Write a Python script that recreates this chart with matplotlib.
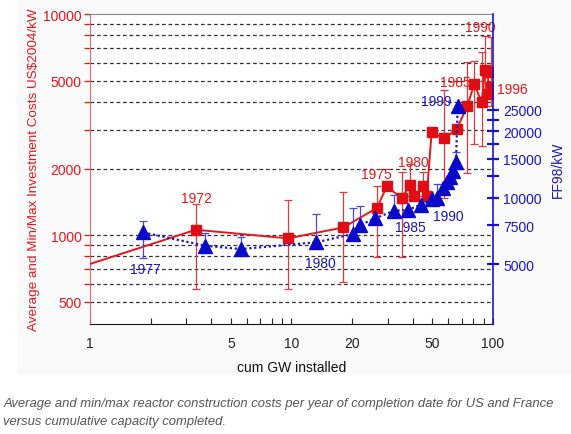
import numpy as np
import matplotlib
matplotlib.use("Agg")
import matplotlib.pyplot as plt
from matplotlib.ticker import FixedLocator, FuncFormatter, NullFormatter, LogLocator

plt.rcParams['font.family'] = ['Liberation Sans', 'DejaVu Sans']

# ---- data ----
# red: average US$2004/kW per completion year (left axis)
red_x = [3.35, 9.64, 18.1, 26.6, 29.7, 35.2, 38.7, 40.7, 45.1, 46.9, 49.6,
         57.4, 66.1, 74.5, 80.7, 87.9, 91.3, 94.5, 94.8, 97.8]
red_y = [1057, 966, 1083, 1328, 1660, 1469, 1682, 1506, 1671, 1506, 2917,
         2735, 3020, 3820, 4820, 3980, 5580, 5465, 4345, 4677]
red_lo = [570, 570, 611, 793, None, 793, 1500, None, 1500, None, None,
          1470, None, 1910, 2580, 2540, 4400, None, None, 3840]
red_hi = [1380, 1445, 1570, 1660, None, 1924, 2095, None, 1930, None, None,
          4540, None, 6070, 6150, 6710, 7980, None, None, 7850]
# the red line runs in from the left edge
red_start_x, red_start_y = 1.0, 740

# blue: FF98/kW (right axis)
blue_x = [1.84, 3.72, 5.6, 13.3, 20.1, 21.9, 26.0, 32.4, 37.7, 44.0, 49.8,
          52.7, 56.7, 58.9, 61.2, 63.6, 65.5, 66.8]
blue_y = [6960, 6060, 5850, 6280, 6840, 7510, 8060, 8720, 8790, 9300, 9850,
          9950, 11000, 11720, 12350, 13230, 14440, 26030]
blue_lo = [5330, None, None, None, None, None, None, None, None, None, None,
           None, None, None, None, None, None, None]
blue_hi = [7850, 6890, 6610, 8430, 8940, 9130, None, 10300, None, None, None,
           11520, None, None, None, None, 16020, None]

# year labels: (text, x, y on the left-axis scale)
red_labels = [("1972", 3.36, 1470), ("1975", 26.5, 1888), ("1980", 40.2, 2148),
              ("1985", 64.8, 4910), ("1990", 86.2, 8710), ("1996", 124.0, 4580)]
blue_labels = [("1977", 1.89, 702), ("1980", 13.85, 747), ("1985", 38.7, 1083),
               ("1990", 60.0, 1223), ("1999", 52.1, 4037)]

grid_levels = [500, 600, 700, 800, 900, 1000, 2000, 3000, 4000, 5000,
               6000, 7000, 8000, 9000]
left_labels = [500, 1000, 2000, 5000, 10000]
right_major = [5000, 7500, 10000, 15000, 20000, 25000]
right_minor = [12500, 17500, 22500]
x_labels = [1, 5, 10, 20, 50, 100]

ff_per_usd = 6.77   # right axis offset against left axis
ylo, yhi = 396, 10000

RED = '#e8161b'
BLUE = '#1a16c8'

fig = plt.figure(figsize=(5.71, 4.35), dpi=100)
fig.patches.append(plt.Rectangle((0.03, 0.138), 0.97, 0.862, transform=fig.transFigure,
                                 facecolor='#fafafa', edgecolor='none', zorder=-10))
ax = fig.add_axes([0.1576, 0.2529, 0.7058, 0.7126])
ax.set_facecolor('white')
ax.set_xscale('log')
ax.set_yscale('log')
ax.set_xlim(1, 100)
ax.set_ylim(ylo, yhi)

for g in grid_levels:
    ax.axhline(g, color='#333333', lw=0.9, ls=(0, (3, 2.2)), zorder=1)


def bars(xs, ys, lo, hi):
    bx, by, el, eh = [], [], [], []
    for x, y, l, h in zip(xs, ys, lo, hi):
        if l is None and h is None:
            continue
        bx.append(x); by.append(y)
        el.append(y - (l if l is not None else y))
        eh.append((h if h is not None else y) - y)
    return bx, by, [el, eh]


# red series
ax.plot([red_start_x] + red_x, [red_start_y] + red_y, color=RED, lw=1.4, zorder=3)
bx, by, be = bars(red_x, red_y, red_lo, red_hi)
ax.errorbar(bx, by, yerr=be, fmt='none', ecolor='#e2393c', elinewidth=0.9,
            capsize=3, capthick=0.9, zorder=2)
ax.plot(red_x, red_y, ls='none', marker='s', ms=7.5, color='#e00e14', zorder=4)

for t, x, y in red_labels:
    ax.text(x, y, t, color=RED, fontsize=10, ha='center', va='center', zorder=6)

ax.yaxis.set_major_locator(FixedLocator(grid_levels + [10000]))
ax.yaxis.set_minor_locator(FixedLocator([]))
ax.yaxis.set_major_formatter(FuncFormatter(
    lambda v, p: f"{int(round(v))}" if int(round(v)) in left_labels else ""))
ax.tick_params(axis='y', colors=RED, labelcolor=RED, direction='out', length=4,
               width=0.9, labelsize=10, pad=2)

ax.xaxis.set_major_locator(FixedLocator(x_labels))
ax.xaxis.set_major_formatter(FuncFormatter(lambda v, p: f"{v:g}"))
ax.xaxis.set_minor_locator(LogLocator(base=10, subs=np.arange(2, 10)))
ax.xaxis.set_minor_formatter(NullFormatter())
ax.tick_params(axis='x', which='both', direction='in', length=4, width=0.8,
               colors='#222222', labelsize=10, pad=9)

ax.spines['left'].set_color('#e06a6a')
ax.spines['top'].set_color('#8a8a8a')
ax.spines['bottom'].set_color('#111111')
ax.spines['right'].set_visible(False)

ax.set_xlabel('cum GW installed', fontsize=10, color='#111111', labelpad=7)
ax.set_ylabel('Average and Min/Max Investment Costs US$2004/kW', fontsize=9.7,
              color=RED, labelpad=2)

# blue series on right axis
ax2 = ax.twinx()
ax2.set_yscale('log')
ax2.set_ylim(ylo * ff_per_usd, yhi * ff_per_usd)
ax2.plot(blue_x, blue_y, color=BLUE, lw=1.6, ls=(0, (1, 1.2)), zorder=3)
bx, by, be = bars(blue_x, blue_y, blue_lo, blue_hi)
ax2.errorbar(bx, by, yerr=be, fmt='none', ecolor='#4a48d8', elinewidth=0.9,
             capsize=3, capthick=0.9, zorder=2)
ax2.plot(blue_x, blue_y, ls='none', marker='^', ms=10, color='#0a0ac8', zorder=4)

for t, x, y in blue_labels:
    ax2.text(x, y * ff_per_usd, t, color=BLUE, fontsize=10,
             ha='center', va='center', zorder=6)

ax2.yaxis.set_major_locator(FixedLocator(right_major))
ax2.yaxis.set_minor_locator(FixedLocator(right_minor))
ax2.yaxis.set_major_formatter(FuncFormatter(lambda v, p: f"{int(round(v))}"))
ax2.yaxis.set_minor_formatter(NullFormatter())
ax2.tick_params(axis='y', which='major', colors=BLUE, labelcolor=BLUE,
                direction='inout', length=9, width=1.6, labelsize=10, pad=3)
ax2.tick_params(axis='y', which='minor', colors=BLUE, direction='inout',
                length=9, width=1.6)
for s in ['left', 'top', 'bottom']:
    ax2.spines[s].set_visible(False)
ax2.spines['right'].set_color(BLUE)
ax2.spines['right'].set_linewidth(1.2)
ax2.set_ylabel('FF98/kW', fontsize=10, color=BLUE, labelpad=6)

fig.text(0.006, 0.0713, 'Average and min/max reactor construction costs per year of completion date for US and France',
         fontsize=9.4, style='italic', color='#555555', ha='left', va='center')
fig.text(0.006, 0.030, 'versus cumulative capacity completed.',
         fontsize=9.4, style='italic', color='#555555', ha='left', va='center')

fig.savefig('out.png', dpi=100)
